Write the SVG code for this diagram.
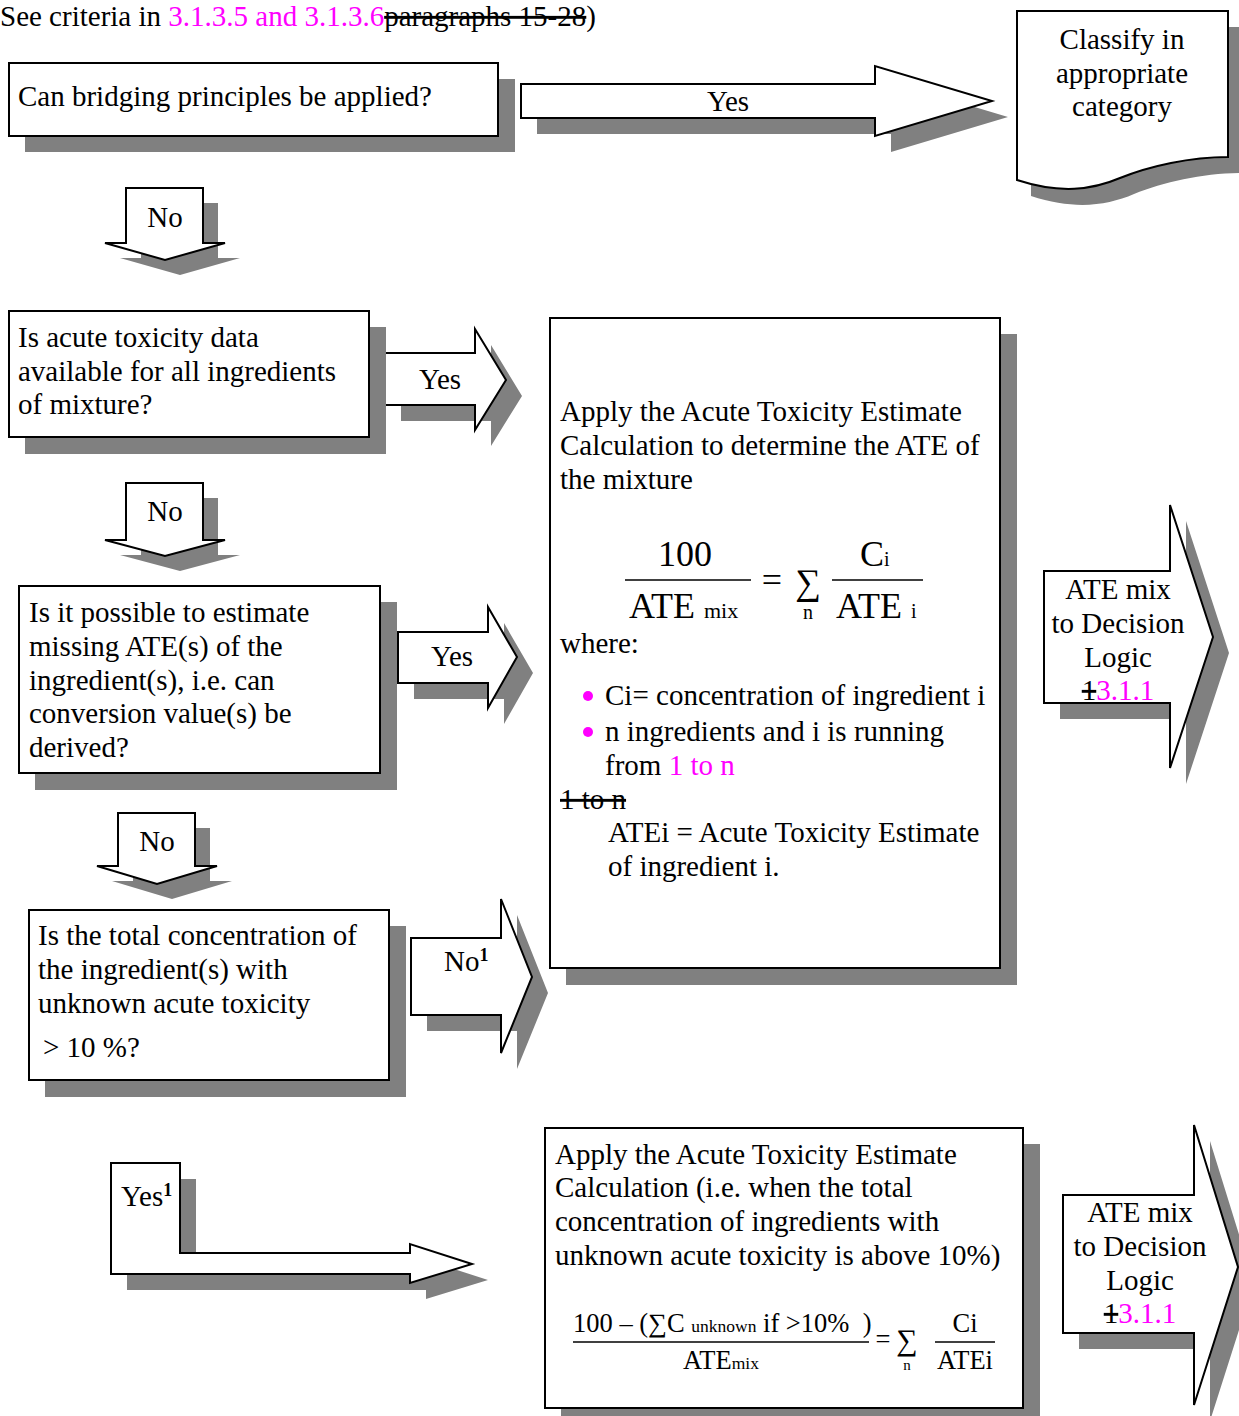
<svg xmlns="http://www.w3.org/2000/svg" width="1239" height="1416" viewBox="0 0 1239 1416">
<style>
text{font-family:"Liberation Serif","Times New Roman",serif;fill:#000;}
.t{font-size:29px;}
.m{fill:#ff00ff;}
.s{text-decoration:line-through;}
.sh{fill:#808080;stroke:none;}
.bx{fill:#fff;stroke:#000;stroke-width:2;}
.f{font-size:36px;}
.fs{font-size:22px;}
.g{font-size:26.5px;}
.gs{font-size:17.5px;}
.ln{stroke:#000;stroke-width:1.5;}
</style>
<rect width="1239" height="1416" fill="#fff"/>
<g id="note">
<text class="t" x="0" y="26">See criteria in <tspan class="m">3.1.3.5 and 3.1.3.6</tspan><tspan class="s">paragraphs 15-28</tspan>)</text>
</g>
<g id="connectors">
<g id="yes1">
<polygon class="sh" transform="translate(16,16)" points="521,84 875,84 875,66 992,101 875,136 875,118 521,118"/>
<polygon class="bx" points="521,84 875,84 875,66 992,101 875,136 875,118 521,118"/>
<text class="t" x="728" y="111" text-anchor="middle">Yes</text>
</g>
<g id="no1">
<polygon class="sh" transform="translate(15,15)" points="126,188 203,188 203,243 225,243 165,260 105,243 126,243"/>
<polygon class="bx" points="126,188 203,188 203,243 225,243 165,260 105,243 126,243"/>
<text class="t" x="165" y="227" text-anchor="middle">No</text>
</g>
<g id="yes2">
<polygon class="sh" transform="translate(16,16)" points="385,353 475,353 475,329 506,380 475,430 475,405 385,405"/>
<polygon class="bx" points="385,353 475,353 475,329 506,380 475,430 475,405 385,405"/>
<text class="t" x="440" y="389" text-anchor="middle">Yes</text>
</g>
<g id="no2">
<polygon class="sh" transform="translate(15,15)" points="126,483 203,483 203,540 225,540 165,556 105,540 126,540"/>
<polygon class="bx" points="126,483 203,483 203,540 225,540 165,556 105,540 126,540"/>
<text class="t" x="165" y="521" text-anchor="middle">No</text>
</g>
<g id="yes3">
<polygon class="sh" transform="translate(16,16)" points="398,632 488,632 488,607 517,657 488,708 488,683 398,683"/>
<polygon class="bx" points="398,632 488,632 488,607 517,657 488,708 488,683 398,683"/>
<text class="t" x="452" y="666" text-anchor="middle">Yes</text>
</g>
<g id="no3">
<polygon class="sh" transform="translate(15,15)" points="118,813 195,813 195,866 217,866 157,884 97,866 118,866"/>
<polygon class="bx" points="118,813 195,813 195,866 217,866 157,884 97,866 118,866"/>
<text class="t" x="157" y="851" text-anchor="middle">No</text>
</g>
<g id="no4">
<polygon class="sh" transform="translate(16,16)" points="411,938 501,938 501,899 532,977 501,1053 501,1015 411,1015"/>
<polygon class="bx" points="411,938 501,938 501,899 532,977 501,1053 501,1015 411,1015"/>
<text class="t" x="444" y="971">No<tspan font-size="18" font-weight="bold" dy="-10">1</tspan></text>
</g>
<g id="yes4">
<polygon class="sh" transform="translate(16,16)" points="111,1163 180,1163 180,1253 410,1253 410,1244 472,1264 410,1283 410,1274 111,1274"/>
<polygon class="bx" points="111,1163 180,1163 180,1253 410,1253 410,1244 472,1264 410,1283 410,1274 111,1274"/>
<text class="t" x="121" y="1206">Yes<tspan font-size="18" font-weight="bold" dy="-10">1</tspan></text>
</g>
<g id="ate1">
<polygon class="sh" transform="translate(16,16)" points="1044,571 1170,571 1170,505 1213,637 1170,768 1170,703 1044,703"/>
<polygon class="bx" points="1044,571 1170,571 1170,505 1213,637 1170,768 1170,703 1044,703"/>
<text class="t" text-anchor="middle"><tspan x="1118" y="599">ATE mix</tspan><tspan x="1118" y="633">to Decision</tspan><tspan x="1118" y="667">Logic</tspan><tspan x="1118" y="700"><tspan class="s">1</tspan><tspan class="m">3.1.1</tspan></tspan></text>
</g>
<g id="ate2">
<polygon class="sh" transform="translate(16,16)" points="1063,1195 1194,1195 1194,1125 1238,1267 1194,1405 1194,1333 1063,1333"/>
<polygon class="bx" points="1063,1195 1194,1195 1194,1125 1238,1267 1194,1405 1194,1333 1063,1333"/>
<text class="t" text-anchor="middle"><tspan x="1140" y="1222">ATE mix</tspan><tspan x="1140" y="1256">to Decision</tspan><tspan x="1140" y="1290">Logic</tspan><tspan x="1140" y="1323"><tspan class="s">1</tspan><tspan class="m">3.1.1</tspan></tspan></text>
</g>
</g>
<g id="q1">
<rect class="sh" x="25" y="79" width="490" height="73"/>
<rect class="bx" x="9" y="63" width="489" height="73"/>
<text class="t" x="18" y="106">Can bridging principles be applied?</text>
</g>
<g id="classify">
<path class="sh" transform="translate(14,16)" d="M1017,11 L1228,11 L1228,157 C1190,157 1150,166 1120,178 C1092,190 1060,194 1017,180 Z"/>
<path class="bx" d="M1017,11 L1228,11 L1228,157 C1190,157 1150,166 1120,178 C1092,190 1060,194 1017,180 Z"/>
<text class="t" text-anchor="middle"><tspan x="1122" y="49">Classify in</tspan><tspan x="1122" y="83">appropriate</tspan><tspan x="1122" y="116">category</tspan></text>
</g>
<g id="q2">
<rect class="sh" x="25" y="327" width="361" height="127"/>
<rect class="bx" x="9" y="311" width="360" height="126"/>
<text class="t"><tspan x="18" y="347">Is acute toxicity data</tspan><tspan x="18" y="381">available for all ingredients</tspan><tspan x="18" y="414">of mixture?</tspan></text>
</g>
<g id="calc1">
<rect class="sh" x="566" y="334" width="451" height="651"/>
<rect class="bx" x="550" y="318" width="450" height="650"/>
<text class="t"><tspan x="560" y="421">Apply the Acute Toxicity Estimate</tspan><tspan x="560" y="455">Calculation to determine the ATE of</tspan><tspan x="560" y="489">the mixture</tspan></text>
<text class="f" x="685" y="566" text-anchor="middle">100</text>
<line class="ln" x1="625" y1="580" x2="751" y2="580"/>
<text class="f" x="629" y="618">ATE <tspan class="fs">mix</tspan></text>
<text class="f" x="772" y="592" text-anchor="middle">=</text>
<text x="808" y="594" font-size="36" text-anchor="middle">∑</text>
<text x="808" y="619" font-size="20" text-anchor="middle">n</text>
<text class="f" x="860" y="566">C<tspan font-size="20">i</tspan></text>
<line class="ln" x1="832" y1="580" x2="923" y2="580"/>
<text class="f" x="836" y="618">ATE <tspan font-size="20">i</tspan></text>
<text class="t" x="560" y="653">where:</text>
<circle class="m" cx="588" cy="696" r="5"/>
<circle class="m" cx="588" cy="732" r="5"/>
<text class="t"><tspan x="605" y="705">Ci= concentration of ingredient i</tspan><tspan x="605" y="741">n ingredients and i is running</tspan><tspan x="605" y="775">from <tspan class="m">1 to n</tspan></tspan></text>
<text class="t s" x="560" y="809">1 to n</text>
<text class="t"><tspan x="608" y="842">ATEi = Acute Toxicity Estimate</tspan><tspan x="608" y="876">of ingredient i.</tspan></text>
</g>
<g id="q3">
<rect class="sh" x="35" y="602" width="362" height="188"/>
<rect class="bx" x="19" y="586" width="361" height="187"/>
<text class="t"><tspan x="29" y="622">Is it possible to estimate</tspan><tspan x="29" y="656">missing ATE(s) of the</tspan><tspan x="29" y="690">ingredient(s), i.e. can</tspan><tspan x="29" y="723">conversion value(s) be</tspan><tspan x="29" y="757">derived?</tspan></text>
</g>
<g id="q4">
<rect class="sh" x="45" y="926" width="361" height="171"/>
<rect class="bx" x="29" y="910" width="360" height="170"/>
<text class="t"><tspan x="38" y="945">Is the total concentration of</tspan><tspan x="38" y="979">the ingredient(s) with</tspan><tspan x="38" y="1013">unknown acute toxicity</tspan><tspan x="43" y="1057">&gt; 10 %?</tspan></text>
</g>
<g id="calc2">
<rect class="sh" x="561" y="1144" width="479" height="281"/>
<rect class="bx" x="545" y="1128" width="478" height="280"/>
<text class="t"><tspan x="555" y="1164">Apply the Acute Toxicity Estimate</tspan><tspan x="555" y="1197">Calculation (i.e. when the total</tspan><tspan x="555" y="1231">concentration of ingredients with</tspan><tspan x="555" y="1265">unknown acute toxicity is above 10%)</tspan></text>
<text class="g" x="573" y="1332">100 – (∑C <tspan class="gs">unknown</tspan> if &gt;10%&#160;&#160;)</text>
<line class="ln" x1="573" y1="1342" x2="869" y2="1342"/>
<text class="g" x="721" y="1369" text-anchor="middle">ATE<tspan class="gs">mix</tspan></text>
<text class="g" x="883" y="1348" text-anchor="middle">=</text>
<text x="907" y="1350" font-size="30" text-anchor="middle">∑</text>
<text x="907" y="1370" font-size="15" text-anchor="middle">n</text>
<text class="g" x="965" y="1332" text-anchor="middle">Ci</text>
<line class="ln" x1="935" y1="1342" x2="995" y2="1342"/>
<text class="g" x="965" y="1369" text-anchor="middle">ATEi</text>
</g>
</svg>
